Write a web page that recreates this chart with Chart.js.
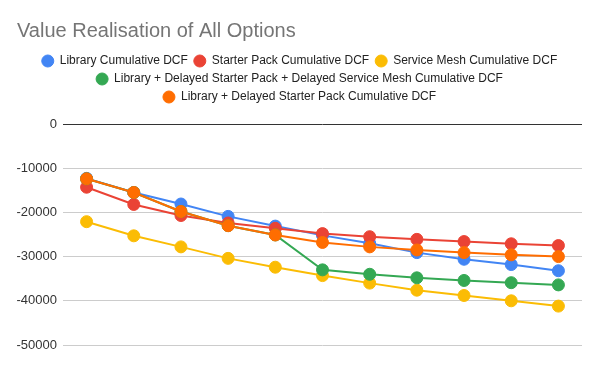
<!DOCTYPE html>
<html>
<head>
<meta charset="utf-8">
<script src="https://cdn.jsdelivr.net/npm/chart.js@4/dist/chart.umd.min.js"></script>
<style>
  html, body { margin: 0; padding: 0; background: #ffffff; }
  #wrap { width: 600px; height: 371px; }
</style>
</head>
<body>
<div id="wrap"><canvas id="chart" width="600" height="371"></canvas></div>
<script>
// periods (x categories are not labelled in the original chart)
const periods = ['1', '2', '3', '4', '5', '6', '7', '8', '9', '10', '11']

const libraryDcf = [-12300, -15500, -18100, -20900, -23100, -25200, -27000, -29100, -30600, -31800, -33200]
const starterPackDcf = [-14300, -18200, -20700, -22400, -23600, -24800, -25500, -26100, -26600, -27100, -27500]
const serviceMeshDcf = [-22100, -25300, -27800, -30400, -32400, -34300, -36000, -37600, -38800, -40000, -41200]
const libraryDelayedAllDcf = [-12400, -15500, -19800, -23000, -25100, -33000, -34000, -34800, -35400, -35900, -36400]
const libraryDelayedStarterDcf = [-12400, -15500, -19800, -23000, -25100, -26800, -27800, -28500, -29100, -29600, -30000]

const yTicks = [0, -10000, -20000, -30000, -40000, -50000]

const seriesNames = [
    'Library Cumulative DCF',
    'Starter Pack Cumulative DCF',
    'Service Mesh Cumulative DCF',
    'Library + Delayed Starter Pack + Delayed Service Mesh Cumulative DCF',
    'Library + Delayed Starter Pack Cumulative DCF'
]
const seriesColors = ['#4285F4', '#EA4335', '#FBBC04', '#34A853', '#FF6D01']
const seriesValues = [libraryDcf, starterPackDcf, serviceMeshDcf, libraryDelayedAllDcf, libraryDelayedStarterDcf]

const FONT = "'Liberation Sans', Arial, sans-serif"

// later series sit on top, like the original
const datasets = seriesValues.map((values, i) => ({
    label: seriesNames[i],
    data: values,
    borderColor: seriesColors[i],
    backgroundColor: seriesColors[i],
    pointBackgroundColor: seriesColors[i],
    pointBorderColor: seriesColors[i],
    borderWidth: 2,
    pointRadius: 6,
    pointBorderWidth: 1,
    tension: 0,
    order: seriesValues.length - i
}))

// extra space between legend and plot area
const legendMargin = {
    id: 'legendMargin',
    beforeInit(chart) {
        const fit = chart.legend.fit
        chart.legend.fit = function () {
            fit.bind(chart.legend)()
            this.height += 11
        }
    }
}

new Chart(document.getElementById('chart'), {
    type: 'line',
    data: {
        labels: periods,
        datasets: datasets
    },
    options: {
        responsive: false,
        animation: false,
        layout: {
            padding: { top: 0, left: 17, right: 18, bottom: 26 }
        },
        plugins: {
            title: {
                display: true,
                text: 'Value Realisation of All Options',
                align: 'start',
                color: '#757575',
                font: { family: FONT, size: 20, weight: 'normal', lineHeight: 1.2 },
                padding: { top: 19, bottom: 6 }
            },
            legend: {
                display: true,
                position: 'top',
                labels: {
                    usePointStyle: true,
                    pointStyle: 'circle',
                    boxHeight: 8.5,
                    boxWidth: 12,
                    padding: 6,
                    color: '#222222',
                    font: { family: FONT, size: 12 },
                    sort: (a, b) => a.datasetIndex - b.datasetIndex
                }
            },
            tooltip: { enabled: false }
        },
        scales: {
            x: {
                display: false,
                offset: true
            },
            y: {
                min: -50000,
                max: 0,
                afterBuildTicks: (axis) => {
                    axis.ticks = yTicks.map(v => ({ value: v }))
                },
                afterFit: (axis) => {
                    axis.width = 46
                },
                border: { display: false },
                grid: {
                    drawTicks: false,
                    color: (ctx) => ctx.tick && ctx.tick.value === 0 ? '#333333' : '#cccccc',
                    lineWidth: 1
                },
                ticks: {
                    padding: 6,
                    color: '#333333',
                    font: { family: FONT, size: 13 },
                    callback: (value) => String(value)
                }
            }
        }
    },
    plugins: [legendMargin]
})
</script>
</body>
</html>
